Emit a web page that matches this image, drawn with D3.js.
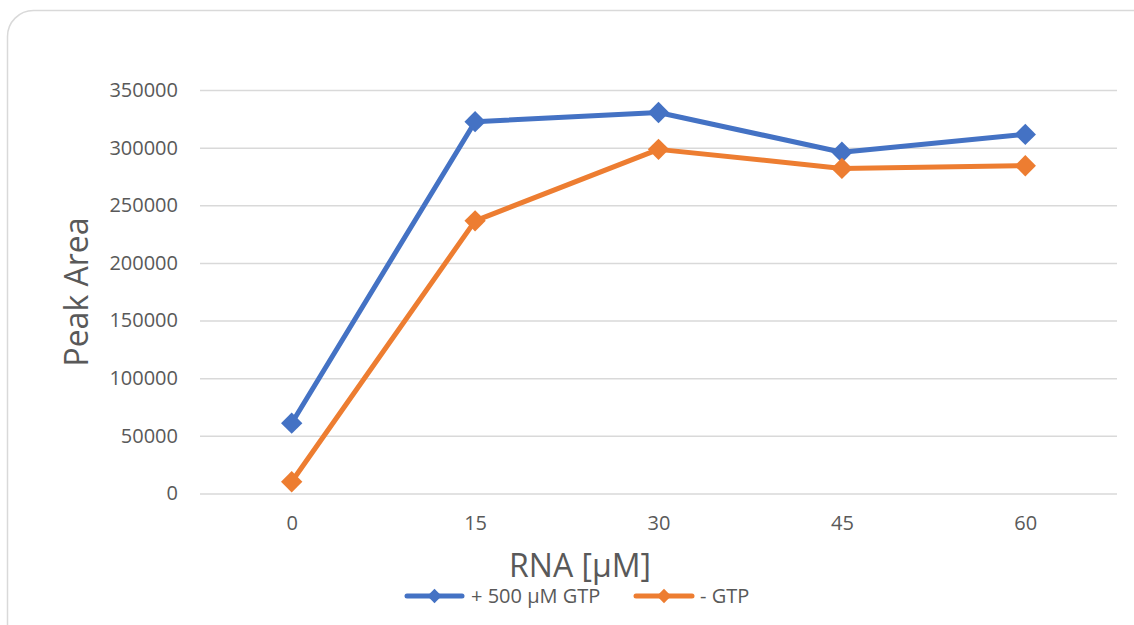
<!DOCTYPE html>
<html>
<head>
<meta charset="utf-8">
<script src="https://cdn.jsdelivr.net/npm/d3@7"></script>
<style>
  html, body { margin: 0; padding: 0; background: #ffffff; }
  svg { display: block; font-family: "Open Sans", "Noto Sans", sans-serif; }
</style>
</head>
<body>
<svg id="chart" width="1134" height="625"></svg>
<script>
// RNA concentrations (µM) along the x axis
const categories = ["0", "15", "30", "45", "60"];
// Peak area with 500 µM GTP
const withGTP = [61000, 322500, 330500, 296000, 311500];
// Peak area without GTP
const withoutGTP = [10200, 236500, 298500, 282000, 284300];
const yTicks = [0, 50000, 100000, 150000, 200000, 250000, 300000, 350000];
const seriesNames = ["+ 500 µM GTP", "- GTP"];
const seriesColors = ["#4472C4", "#ED7D31"];

const svg = d3.select("#chart");

// outer chart frame
svg.append("rect")
  .attr("x", 7.5).attr("y", 10.5)
  .attr("width", 1150).attr("height", 640)
  .attr("rx", 26).attr("ry", 26)
  .attr("fill", "#ffffff")
  .attr("stroke", "#D9D9D9").attr("stroke-width", 1.5);

const plot = { left: 200, right: 1117, top: 90, bottom: 493.5 };

const x = d3.scalePoint().domain(categories).range([plot.left, plot.right]).padding(0.5);
const y = d3.scaleLinear().domain([0, 350000]).range([plot.bottom, plot.top]);

// horizontal gridlines + y labels
const yAxis = d3.axisLeft(y).tickValues(yTicks).tickSize(-(plot.right - plot.left)).tickPadding(22).tickFormat(d3.format("d"));
const gy = svg.append("g").attr("transform", `translate(${plot.left},0)`).call(yAxis);
gy.select(".domain").remove();
gy.selectAll(".tick line").attr("stroke", "#D9D9D9").attr("stroke-width", 1.5);
gy.selectAll(".tick text").attr("fill", "#595959").attr("font-size", 20).attr("font-family", "'Open Sans', sans-serif");

// x labels
const xAxis = d3.axisBottom(x).tickSize(0).tickPadding(22);
const gx = svg.append("g").attr("transform", `translate(0,${plot.bottom})`).call(xAxis);
gx.select(".domain").remove();
gx.selectAll(".tick text").attr("fill", "#595959").attr("font-size", 20).attr("font-family", "'Open Sans', sans-serif");

// axis titles
svg.append("text")
  .attr("transform", `translate(88,292) rotate(-90)`)
  .attr("text-anchor", "middle")
  .attr("fill", "#595959").attr("font-size", 32)
  .text("Peak Area");

svg.append("text")
  .attr("x", 580).attr("y", 577)
  .attr("text-anchor", "middle")
  .attr("fill", "#595959").attr("font-size", 32)
  .text("RNA [µM]");

// series lines and diamond markers
const series = [withGTP, withoutGTP];
const line = d3.line().x((d, i) => x(categories[i])).y(d => y(d));
const diamond = d3.symbol().type(d3.symbolDiamond2).size(290);

series.forEach((vals, s) => {
  const g = svg.append("g");
  g.append("path")
    .datum(vals)
    .attr("d", line)
    .attr("fill", "none")
    .attr("stroke", seriesColors[s])
    .attr("stroke-width", 5)
    .attr("stroke-linejoin", "round")
    .attr("stroke-linecap", "round");
  g.selectAll("path.m")
    .data(vals)
    .join("path")
    .attr("class", "m")
    .attr("transform", (d, i) => `translate(${x(categories[i])},${y(d)})`)
    .attr("d", diamond)
    .attr("fill", seriesColors[s]);
});

// legend
const legendItems = [
  { x0: 407, x1: 462, tx: 471 },
  { x0: 636, x1: 692, tx: 700 }
];
const legendDiamond = d3.symbol().type(d3.symbolDiamond2).size(130);
legendItems.forEach((it, s) => {
  const lg = svg.append("g");
  lg.append("line")
    .attr("x1", it.x0).attr("x2", it.x1)
    .attr("y1", 596).attr("y2", 596)
    .attr("stroke", seriesColors[s]).attr("stroke-width", 5)
    .attr("stroke-linecap", "round");
  lg.append("path")
    .attr("transform", `translate(${(it.x0 + it.x1) / 2},596)`)
    .attr("d", legendDiamond)
    .attr("fill", seriesColors[s]);
  lg.append("text")
    .attr("x", it.tx).attr("y", 603)
    .attr("fill", "#595959").attr("font-size", 20)
    .text(seriesNames[s]);
});
</script>
</body>
</html>
